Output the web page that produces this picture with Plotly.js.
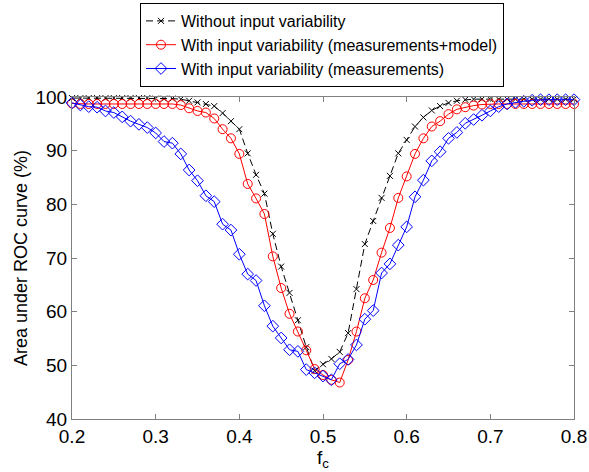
<!DOCTYPE html>
<html>
<head>
<meta charset="utf-8">
<script src="https://cdn.plot.ly/plotly-3.0.1.min.js"></script>
<style>html,body{margin:0;padding:0;background:#fff;}#chart{width:589px;height:472px;}</style>
</head>
<body>
<div id="chart"></div>
<script>
const fc = [0.20,0.21,0.22,0.23,0.24,0.25,0.26,0.27,0.28,0.29,
            0.30,0.31,0.32,0.33,0.34,0.35,0.36,0.37,0.38,0.39,
            0.40,0.41,0.42,0.43,0.44,0.45,0.46,0.47,0.48,0.49,
            0.50,0.51,0.52,0.53,0.54,0.55,0.56,0.57,0.58,0.59,
            0.60,0.61,0.62,0.63,0.64,0.65,0.66,0.67,0.68,0.69,
            0.70,0.71,0.72,0.73,0.74,0.75,0.76,0.77,0.78,0.79,0.80];

const withoutVar = [99.8,99.8,99.8,99.8,99.8,99.8,99.8,99.8,99.8,99.8,
                    99.7,99.7,99.7,99.6,99.3,99.0,98.7,98.3,97.0,95.5,
                    94.0,89.5,85.5,82.0,74.5,68.4,63.5,58.4,53.4,49.0,
                    50.2,51.2,52.5,56.0,64.2,72.6,76.9,81.2,85.3,89.5,
                    92.0,94.5,96.2,97.5,98.3,98.9,99.3,99.5,99.6,99.6,
                    99.6,99.6,99.6,99.6,99.6,99.6,99.6,99.6,99.6,99.6,99.6];

const withMeasModel = [98.8,98.7,98.7,98.7,98.7,98.7,98.7,98.7,98.7,98.7,
                       98.7,98.7,98.7,98.5,97.9,97.4,97.1,96.0,94.0,92.3,
                       89.4,83.8,81.1,78.2,70.3,64.4,59.6,56.3,52.8,49.3,
                       48.2,47.3,46.8,51.0,56.3,62.5,65.9,71.0,75.6,81.2,
                       85.2,89.4,92.3,94.5,95.5,96.8,97.7,98.1,98.4,98.6,
                       98.7,98.7,98.7,98.7,98.7,98.7,98.7,98.7,98.7,98.7,98.7];

const withMeas = [98.9,98.5,98.2,98.1,97.4,97.1,96.3,95.5,94.9,94.3,
                  93.3,91.7,91.4,89.4,86.4,84.4,81.6,80.5,76.3,75.2,
                  70.7,67.0,65.8,61.1,57.3,55.1,52.9,52.6,49.2,48.6,
                  48.0,47.3,50.3,51.1,53.8,58.6,60.2,67.2,68.9,72.4,
                  75.8,81.4,84.5,88.1,89.8,92.3,93.4,95.1,95.8,96.6,
                  97.4,98.2,98.7,99.0,99.2,99.4,99.5,99.5,99.5,99.5,99.5];

const names = ['Without input variability',
               'With input variability (measurements+model)',
               'With input variability (measurements)'];
const yTicks = [40,50,60,70,80,90,100];
const xTicks = [0.2,0.3,0.4,0.5,0.6,0.7,0.8];

const traces = [
  {x: fc, y: withoutVar, name: names[0], type: 'scatter', mode: 'lines+markers', cliponaxis: false,
   line: {color: '#000000', width: 1, dash: '7px,4px'},
   marker: {symbol: 'x-thin-open', size: 6, color: '#000000', line: {color: '#000000', width: 1}}},
  {x: fc, y: withMeasModel, name: names[1], type: 'scatter', mode: 'lines+markers', cliponaxis: false,
   line: {color: '#ff0000', width: 1},
   marker: {symbol: 'circle-open', size: 9, color: '#ff0000', line: {color: '#ff0000', width: 1}}},
  {x: fc, y: withMeas, name: names[2], type: 'scatter', mode: 'lines+markers', cliponaxis: false,
   line: {color: '#0000ff', width: 1},
   marker: {symbol: 'diamond-open', size: 9, color: '#0000ff', line: {color: '#0000ff', width: 1}}}
];

const FONT = 'Liberation Sans, Arial, sans-serif';
const axisCommon = {
  showgrid: false, zeroline: false, showline: true, linecolor: '#808080', linewidth: 1,
  mirror: 'ticks', ticks: 'inside', ticklen: 5, tickcolor: '#808080',
  tickfont: {family: FONT, size: 19, color: '#000'}
};

const layout = {
  width: 589, height: 472,
  margin: {l: 72, r: 15, t: 97, b: 53, autoexpand: false},
  paper_bgcolor: '#fff', plot_bgcolor: '#fff',
  font: {family: FONT, color: '#000'},
  showlegend: true,
  legend: {x: (140 - 72) / 502, y: 1 + (97 - 3) / 322,
           xanchor: 'left', yanchor: 'top', bgcolor: '#fff',
           bordercolor: '#000', borderwidth: 1,
           font: {family: FONT, size: 16, color: '#000'},
           tracegroupgap: 0},
  xaxis: Object.assign({}, axisCommon, {range: [0.2, 0.8], tickvals: xTicks, ticktext: xTicks.map(v => v.toFixed(1)),
          title: {text: 'f<sub>c</sub>', standoff: 0, font: {family: FONT, size: 19}}}),
  yaxis: Object.assign({}, axisCommon, {range: [40, 100], tickvals: yTicks,
          title: {text: 'Area under ROC curve (%)', standoff: 3, font: {family: FONT, size: 18}}})
};

Plotly.newPlot('chart', traces, layout, {displayModeBar: false, staticPlot: true});
</script>
</body>
</html>
